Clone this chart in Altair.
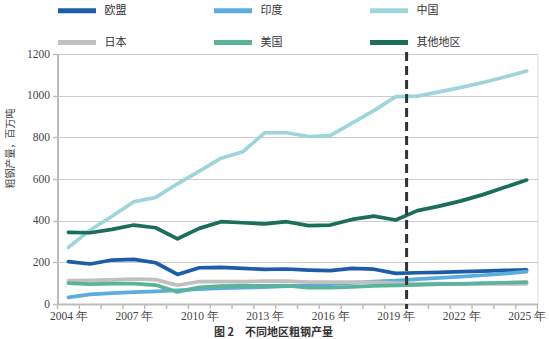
import altair as alt
import pandas as pd

years = list(range(2004, 2026))
series_names = ["欧盟", "印度", "中国", "日本", "美国", "其他地区"]
colors = ["#1d5ca8", "#5badde", "#9ed5da", "#c0c0c0", "#5ab39a", "#1a6e5a"]

eu = [203, 192, 211, 214, 198, 142, 174, 176, 171, 166, 168, 163, 160, 171, 167, 147, 150, 152, 155, 158, 161, 164]
india = [32, 46, 52, 57, 61, 66, 71, 76, 78, 81, 86, 89, 95, 101, 108, 112, 119, 125, 131, 138, 146, 155]
china = [272, 355, 421, 491, 512, 577, 638, 700, 731, 822, 822, 804, 808, 868, 928, 995, 998, 1018, 1040, 1063, 1090, 1118]
japan = [112, 113, 116, 120, 117, 90, 108, 107, 107, 110, 110, 105, 105, 105, 104, 100, 98, 98, 97, 97, 96, 96]
usa = [100, 95, 98, 98, 91, 58, 80, 86, 88, 87, 88, 79, 79, 82, 87, 89, 92, 95, 97, 100, 102, 105]
other = [344, 342, 358, 379, 366, 313, 363, 395, 390, 385, 395, 376, 379, 406, 422, 403, 448, 470, 495, 525, 560, 595]

tick_labels = [2004, 2007, 2010, 2013, 2016, 2019, 2022, 2025]
forecast_boundary = [2019.5]
minor_ticks = [y - 0.5 for y in years] + [years[-1] + 0.5]

values = [eu, india, china, japan, usa, other]
rows = []
for name, vals in zip(series_names, values):
    for y, v in zip(years, vals):
        rows.append({"year": y, "value": v, "region": name})
df = pd.DataFrame(rows)

serif = "Liberation Serif"

x_scale = alt.Scale(domain=[2003.5, 2025.5], nice=False, zero=False)
y_scale = alt.Scale(domain=[0, 1200], nice=False)

lines = alt.Chart(df).mark_line(strokeWidth=3.7, strokeCap="round", strokeJoin="round").encode(
    x=alt.X("year:Q", scale=x_scale,
            axis=alt.Axis(values=tick_labels, labelExpr="datum.value + ' 年'", ticks=False, grid=False,
                          domainColor="#bdbdbd", domainWidth=2, labelFont=serif, labelFontSize=11.5,
                          labelColor="#444", labelPadding=6, title=None)),
    y=alt.Y("value:Q", scale=y_scale,
            axis=alt.Axis(values=[0, 200, 400, 600, 800, 1000, 1200], format="d", grid=True,
                          gridColor="#cccccc", gridWidth=1, domainColor="#bdbdbd", domainWidth=2,
                          tickColor="#bdbdbd", tickSize=5, tickWidth=1.5, labelFont=serif,
                          labelFontSize=11.5, labelColor="#444", labelPadding=3,
                          title="粗钢产量，百万吨", titleFont="Noto Sans CJK SC", titleFontSize=10,
                          titleFontWeight="normal", titleColor="#444", titleX=-42, titleY=94)),
    color=alt.Color("region:N", sort=series_names,
                    scale=alt.Scale(domain=series_names, range=colors),
                    legend=alt.Legend(orient="none", legendX=-2, legendY=-65, columns=3,
                                      direction="horizontal", title=None,
                                      symbolType="stroke", symbolSize=1444, symbolStrokeWidth=5,
                                      labelFont="Noto Sans CJK SC", labelFontSize=11, labelColor="#333",
                                      labelOffset=6, columnPadding=77, rowPadding=0, gridAlign="each")),
    detail="region:N",
)

ticks = alt.Chart(pd.DataFrame({"t": minor_ticks})).mark_rule(color="#bdbdbd", strokeWidth=1.5).encode(
    x=alt.X("t:Q", scale=x_scale),
    y=alt.value(250),
    y2=alt.value(255),
)

dash = alt.Chart(pd.DataFrame({"b": forecast_boundary})).mark_rule(
    color="#333333", strokeWidth=3, strokeDash=[9, 5]).encode(
    x=alt.X("b:Q", scale=x_scale),
    y=alt.value(-2),
    y2=alt.value(255),
)

chart = alt.layer(ticks, lines, dash).properties(
    width=480, height=250,
    autosize=alt.AutoSizeParams(type="none"),
    padding={"left": 57.5, "top": 54, "right": 11.5, "bottom": 35},
    title=alt.TitleParams("图 2　不同地区粗钢产量", orient="bottom", anchor="middle", dx=-24, offset=5,
                          font="Noto Sans CJK SC", fontSize=11, fontWeight="bold", color="#333"),
).configure_view(stroke=None).configure(background="white")

chart.save("out.html", embed_options={"renderer": "svg", "actions": False})
